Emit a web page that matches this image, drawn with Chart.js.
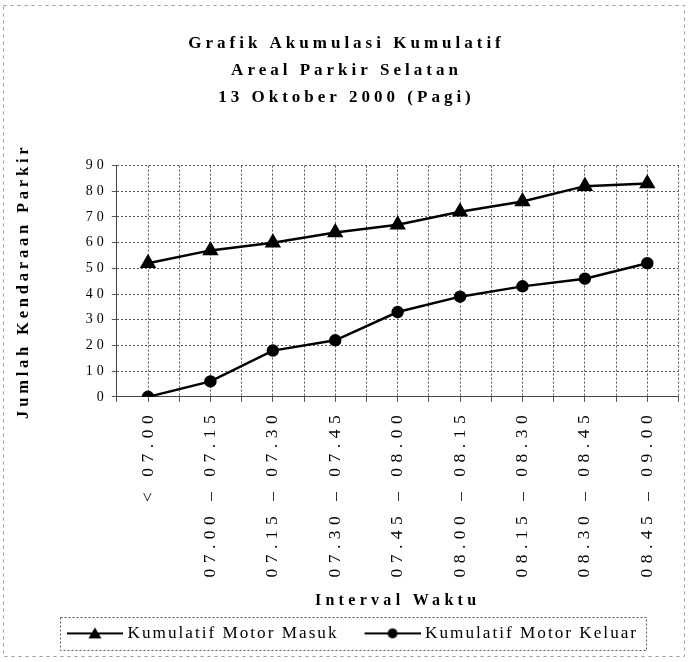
<!DOCTYPE html>
<html lang="id">
<head>
  <meta charset="UTF-8" />
  <title>Grafik Akumulasi Kumulatif</title>
  <script src="https://cdn.jsdelivr.net/npm/chart.js"></script>
  <style>
    html, body {
      margin: 0;
      padding: 0;
      background: #fff;
    }
    .wrap {
      width: 688px;
      height: 662px;
    }
  </style>
</head>
<body>
  <div class="wrap"><canvas id="akumulasi"></canvas></div>

  <script>
    const intervals = ['< 07.00', '07.00 – 07.15', '07.15 – 07.30', '07.30 – 07.45', '07.45 – 08.00',
                       '08.00 – 08.15', '08.15 – 08.30', '08.30 – 08.45', '08.45 – 09.00'];
    const motorMasuk = [52, 57, 60, 64, 67, 72, 76, 82, 83];
    const motorKeluar = [0, 6, 18, 22, 33, 39, 43, 46, 52];
    const yTicks = [0, 10, 20, 30, 40, 50, 60, 70, 80, 90];

    const serif = "'Liberation Serif', 'Times New Roman', serif";
    // letter spacing (px) by font size, the old scan is widely tracked
    const tracking = { '17': 4, '16': 4.3, '16.5': 3.8, '14': 4, '17.5': 5.5, '17.2': 2 };

    const trackingPlugin = {
      id: 'tracking',
      beforeInit(chart) {
        const ctx = chart.ctx;
        const spacing = () => {
          const m = /(\d+(?:\.\d+)?)px/.exec(ctx.font);
          return (m && tracking[m[1]]) || 0;
        };
        const fill = ctx.fillText, measure = ctx.measureText;
        ctx.fillText = function () {
          this.letterSpacing = spacing() + 'px';
          return fill.apply(this, arguments);
        };
        ctx.measureText = function () {
          this.letterSpacing = spacing() + 'px';
          return measure.apply(this, arguments);
        };
      }
    };

    const framePlugin = {
      id: 'frame',
      afterDraw(chart) {
        const ctx = chart.ctx;
        ctx.save();
        ctx.lineWidth = 1;
        ctx.strokeStyle = '#999';
        ctx.setLineDash([3, 4]);
        ctx.strokeRect(3.5, 5.5, 681, 651);
        // box around legend
        const hb = chart.legend.legendHitBoxes;
        if (hb && hb.length) {
          const l = Math.min(...hb.map(b => b.left)) + 5;
          const r = Math.max(...hb.map(b => b.left + b.width)) + 8;
          const t = Math.min(...hb.map(b => b.top)) - 8;
          const b = Math.max(...hb.map(b => b.top + b.height)) + 8;
          ctx.strokeStyle = '#555';
          ctx.setLineDash([2, 2]);
          ctx.strokeRect(Math.round(l) + 0.5, Math.round(t) + 0.5, Math.round(r - l), Math.round(b - t));
        }
        ctx.restore();
      }
    };

    // legend swatch: blank lead-in, then a line with the marker in its middle
    function legendIcon(style) {
      const c = document.createElement('canvas');
      c.width = 72;
      c.height = 14;
      const g = c.getContext('2d');
      g.strokeStyle = '#000';
      g.lineWidth = 2;
      g.beginPath();
      g.moveTo(16, 7);
      g.lineTo(72, 7);
      g.stroke();
      g.fillStyle = '#000';
      g.beginPath();
      if (style === 'triangle') {
        g.moveTo(44, 1);
        g.lineTo(50.5, 12);
        g.lineTo(37.5, 12);
        g.closePath();
      } else {
        g.arc(44, 7, 5, 0, Math.PI * 2);
      }
      g.fill();
      return c;
    }

    const toPoints = arr => arr.map((v, i) => ({ x: i, y: v }));

    new Chart(document.getElementById('akumulasi'), {
      type: 'line',
      data: {
        datasets: [{
          label: 'Kumulatif Motor Masuk',
          data: toPoints(motorMasuk),
          borderColor: '#000',
          backgroundColor: '#000',
          borderWidth: 2.5,
          pointStyle: 'triangle',
          pointRadius: 7,
          tension: 0
        }, {
          label: 'Kumulatif Motor Keluar',
          data: toPoints(motorKeluar),
          borderColor: '#000',
          backgroundColor: '#000',
          borderWidth: 2.5,
          pointStyle: 'circle',
          pointRadius: 5,
          tension: 0
        }]
      },
      options: {
        responsive: true,
        maintainAspectRatio: false,
        animation: false,
        layout: {
          padding: { top: 30, left: 14, right: 9, bottom: 10 }
        },
        scales: {
          x: {
            type: 'linear',
            min: -0.5,
            max: intervals.length - 0.5,
            afterFit: s => { s.paddingRight = 0; },
            ticks: {
              stepSize: 0.5,
              autoSkip: false,
              minRotation: 90,
              maxRotation: 90,
              padding: 8,
              color: '#000',
              font: { family: serif, size: 17.5 },
              callback: v => Number.isInteger(v) ? intervals[v] : ''
            },
            grid: { color: '#555', lineWidth: 1, tickLength: 5 },
            border: { dash: [2, 2], color: '#444' },
            title: {
              display: true,
              text: 'Interval Waktu',
              color: '#000',
              font: { family: serif, size: 16, weight: 'bold' },
              padding: { top: 6, bottom: 0 }
            }
          },
          y: {
            min: yTicks[0],
            max: yTicks[yTicks.length - 1],
            ticks: {
              stepSize: yTicks[1] - yTicks[0],
              padding: 4,
              color: '#000',
              font: { family: serif, size: 14 }
            },
            grid: { color: '#555', lineWidth: 1, tickLength: 5 },
            border: { dash: [2, 2], color: '#444' },
            title: {
              display: true,
              text: 'Jumlah Kendaraan Parkir',
              color: '#000',
              font: { family: serif, size: 16.5, weight: 'bold' },
              padding: { top: 0, bottom: 48 }
            }
          }
        },
        plugins: {
          title: {
            display: true,
            text: ['Grafik Akumulasi Kumulatif', 'Areal Parkir Selatan', '13 Oktober 2000 (Pagi)'],
            color: '#000',
            font: { family: serif, size: 17, weight: 'bold', lineHeight: 1.6 },
            padding: { top: 0, bottom: 54 }
          },
          legend: {
            position: 'bottom',
            labels: {
              usePointStyle: true,
              pointStyleWidth: 64,
              boxHeight: 14,
              padding: 14,
              color: '#000',
              font: { family: serif, size: 17.2 },
              generateLabels: chart => chart.data.datasets.map((ds, i) => ({
                text: ds.label,
                pointStyle: legendIcon(ds.pointStyle),
                fillStyle: 'transparent',
                strokeStyle: 'transparent',
                lineWidth: 0,
                fontColor: '#000',
                hidden: false,
                datasetIndex: i
              }))
            }
          },
          tooltip: { enabled: false }
        }
      },
      plugins: [trackingPlugin, framePlugin]
    });
  </script>
</body>
</html>
